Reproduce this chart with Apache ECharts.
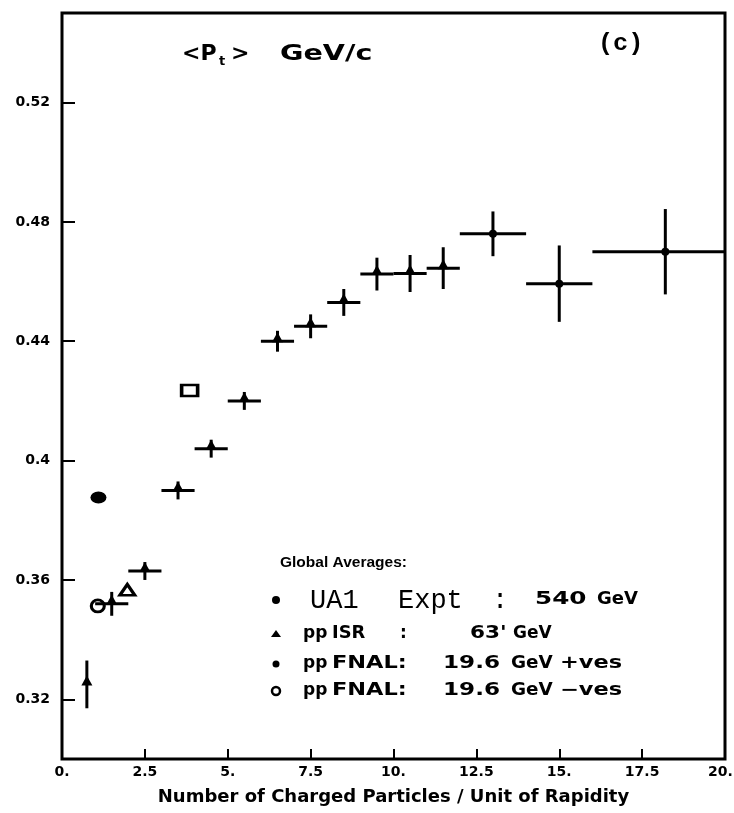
<!DOCTYPE html>
<html>
<head>
<meta charset="utf-8">
<script src="https://cdn.jsdelivr.net/npm/echarts@6.0.0/dist/echarts.min.js"></script>
<style>
  html, body { margin: 0; padding: 0; background: #fff; }
  #chart { width: 734px; height: 813px; }
</style>
</head>
<body>
<div id="chart"></div>
<script>
// pp ISR (63 GeV): mean transverse momentum per multiplicity bin
const isrX    = [0.75, 1.5, 2.5, 3.5, 4.5, 5.5, 6.5, 7.5, 8.5, 9.5, 10.5, 11.5, 13.0, 15.0, 18.2];
const isrY    = [0.325, 0.352, 0.363, 0.390, 0.404, 0.420, 0.440, 0.445, 0.453, 0.4625, 0.4627, 0.4645, 0.476, 0.4593, 0.470];
const isrYErr = [0.008, 0.004, 0.003, 0.003, 0.003, 0.003, 0.0035, 0.004, 0.0045, 0.0055, 0.0062, 0.007, 0.0075, 0.0128, 0.0143];
const binLo   = [0.75, 1.0, 2.0, 3.0, 4.0, 5.0, 6.0, 7.0, 8.0, 9.0, 10.0, 11.0, 12.0, 14.0, 16.0];
const binHi   = [0.75, 2.0, 3.0, 4.0, 5.0, 6.0, 7.0, 8.0, 9.0, 10.0, 11.0, 12.0, 14.0, 16.0, 20.0];

// global averages of each experiment
const avgNames = ['UA1 Expt: 540 GeV', 'pp ISR: 63 GeV', 'pp FNAL: 19.6 GeV +ves', 'pp FNAL: 19.6 GeV -ves'];
const avgX = [3.85, 1.97, 1.10, 1.08];
const avgY = [0.4235, 0.3567, 0.3876, 0.3513];

// axis ticks
const yTickValues = [0.32, 0.36, 0.40, 0.44, 0.48, 0.52];
const xMin = 0, xMax = 20, xStep = 2.5;
const yMin = 0.30, yMax = 0.55;

const chart = echarts.init(document.getElementById('chart'), null, { renderer: 'canvas' });

const errData = isrX.map((x, i) => [x, isrY[i], binLo[i], binHi[i], isrY[i] - isrYErr[i], isrY[i] + isrYErr[i]]);
const triData = isrX.map((x, i) => [x, isrY[i]]).filter(p => p[0] < 12);
const dotData = isrX.map((x, i) => [x, isrY[i]]).filter(p => p[0] >= 12);

function renderErrorBar(params, api) {
  const x = api.value(0), y = api.value(1);
  const lo = api.value(2), hi = api.value(3);
  const style = { stroke: '#000', lineWidth: 3 };
  const children = [];
  if (hi > lo) {
    const a = api.coord([lo, y]), b = api.coord([hi, y]);
    children.push({ type: 'line', shape: { x1: a[0], y1: a[1], x2: b[0], y2: b[1] }, style });
  }
  const c = api.coord([x, api.value(4)]), d = api.coord([x, api.value(5)]);
  children.push({ type: 'line', shape: { x1: c[0], y1: c[1], x2: d[0], y2: d[1] }, style });
  return { type: 'group', children };
}

const SANS = 'DejaVu Sans';
function word(text, x, y, size, scaleX, family, weight) {
  return {
    type: 'text', x: x, y: y, scaleX: scaleX || 1, originX: 0, originY: 0, z: 10,
    style: {
      text: text, fill: '#000',
      fontSize: size, fontFamily: family || SANS, fontWeight: weight || 'bold',
      textAlign: 'left', textVerticalAlign: 'middle', verticalAlign: 'middle'
    }
  };
}

const graphics = [
  // title block
  word('<P', 182, 54, 22, 1.0),
  word('t', 219, 62, 13, 1.0),
  word('>', 231, 54, 22, 1.0),
  word('GeV/c', 280, 54, 22, 1.3),
  word('(c)', 598, 44, 24, 1.05, 'Liberation Mono'),

  // legend heading
  word('Global Averages:', 280, 563, 15.5, 1.0, 'Liberation Sans'),

  // UA1 line
  { type: 'circle', shape: { cx: 276, cy: 600, r: 4 }, style: { fill: '#000' } },
  word('UA1', 310, 601, 27, 1.0, 'Liberation Mono', 'normal'),
  word('Expt', 398, 601, 27, 1.0, 'Liberation Mono', 'normal'),
  word(':', 492, 601, 27, 1.0, 'Liberation Mono', 'normal'),
  word('540', 535, 600, 17, 1.45),
  word('GeV', 597, 600, 17, 1.06),

  // ISR line
  { type: 'polygon', shape: { points: [[271, 637], [281, 637], [276, 630]] }, style: { fill: '#000' } },
  word('pp', 303, 634, 17, 1.0),
  word('ISR', 332, 634, 17, 1.05),
  word(':', 400, 634, 17, 1.0),
  word("63'", 470, 634, 17, 1.27),
  word('GeV', 513, 634, 17, 1.0),

  // FNAL positives
  { type: 'circle', shape: { cx: 276, cy: 664, r: 3.5 }, style: { fill: '#000' } },
  word('pp', 303, 664, 17, 1.0),
  word('FNAL:', 332, 664, 17, 1.32),
  word('19.6', 443, 664, 17, 1.36),
  word('GeV', 511, 664, 17, 1.08),
  word('+ves', 560, 664, 17, 1.32),

  // FNAL negatives
  { type: 'circle', shape: { cx: 276, cy: 691, r: 4 }, style: { fill: 'none', stroke: '#000', lineWidth: 2.5 } },
  word('pp', 303, 691, 17, 1.0),
  word('FNAL:', 332, 691, 17, 1.32),
  word('19.6', 443, 691, 17, 1.36),
  word('GeV', 511, 691, 17, 1.08),
  word('\u2212ves', 560, 691, 17, 1.32)
];

const openStyle = { color: 'rgba(255,255,255,0)', borderColor: '#000', borderWidth: 3, opacity: 1 };
const solidStyle = { color: '#000', opacity: 1 };

function xLabel(v) {
  const s = Number.isInteger(v) ? v + '.' : String(v);
  // keep the last label inside the page edge
  return v === xMax ? '{last|' + s + '}' : s;
}

const option = {
  animation: false,
  backgroundColor: '#fff',
  grid: {
    left: 62, right: 9, top: 13, bottom: 54,
    outerBoundsMode: 'none', containLabel: false,
    show: true, borderColor: '#000', borderWidth: 3, backgroundColor: 'transparent'
  },
  xAxis: {
    type: 'value', min: xMin, max: xMax, interval: xStep,
    splitLine: { show: false },
    axisLine: { show: false },
    axisTick: { show: true, inside: true, length: 10, lineStyle: { color: '#000', width: 2 } },
    axisLabel: {
      color: '#000', fontFamily: SANS, fontWeight: 'bold', fontSize: 14, margin: 6,
      formatter: xLabel,
      rich: {
        last: { color: '#000', fontFamily: SANS, fontWeight: 'bold', fontSize: 14, padding: [0, 9, 0, 0] }
      }
    },
    name: 'Number of Charged Particles / Unit of Rapidity',
    nameLocation: 'middle', nameGap: 29,
    nameTextStyle: { color: '#000', fontFamily: SANS, fontWeight: 'bold', fontSize: 18 }
  },
  yAxis: {
    type: 'value', min: yMin, max: yMax,
    splitLine: { show: false },
    axisLine: { show: false },
    axisTick: { show: true, inside: true, length: 13, customValues: yTickValues, lineStyle: { color: '#000', width: 2 } },
    axisLabel: {
      color: '#000', fontFamily: SANS, fontWeight: 'bold', fontSize: 14, margin: 12,
      customValues: yTickValues,
      formatter: v => String(Number(v.toFixed(2)))
    }
  },
  graphic: graphics,
  series: [
    {
      type: 'custom', name: 'pp ISR errors', renderItem: renderErrorBar,
      encode: { x: [0, 2, 3], y: [1, 4, 5] }, data: errData, z: 2, silent: true
    },
    {
      type: 'scatter', name: 'pp ISR', data: triData, symbol: 'triangle',
      symbolSize: [11, 10], symbolOffset: [0, -4], itemStyle: solidStyle, z: 3
    },
    {
      type: 'scatter', name: 'pp ISR high', data: dotData, symbol: 'circle',
      symbolSize: 8, itemStyle: solidStyle, z: 3
    },
    {
      type: 'scatter', name: avgNames[0], data: [[avgX[0], avgY[0]]], symbol: 'rect',
      symbolSize: [16, 11], itemStyle: openStyle, z: 4
    },
    {
      type: 'scatter', name: avgNames[1], data: [[avgX[1], avgY[1]]], symbol: 'triangle',
      symbolSize: [15, 11], itemStyle: openStyle, z: 4
    },
    {
      type: 'scatter', name: avgNames[2], data: [[avgX[2], avgY[2]]], symbol: 'circle',
      symbolSize: [16, 12], itemStyle: solidStyle, z: 4
    },
    {
      type: 'scatter', name: avgNames[3], data: [[avgX[3], avgY[3]]], symbol: 'circle',
      symbolSize: [13, 12], itemStyle: openStyle, z: 4
    }
  ]
};

chart.setOption(option);
</script>
</body>
</html>
